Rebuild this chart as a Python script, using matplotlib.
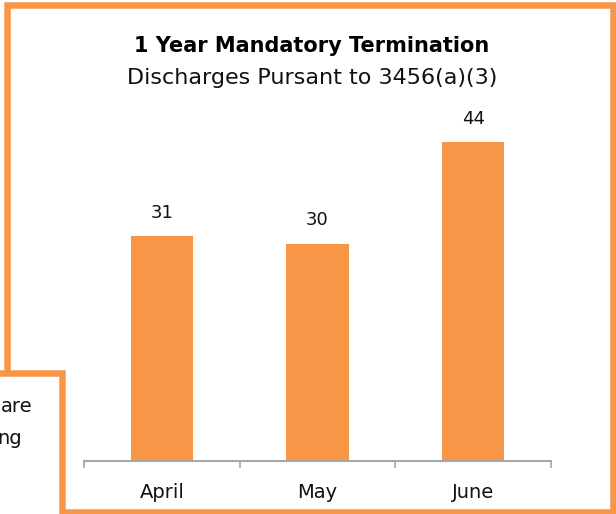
import matplotlib
matplotlib.use('Agg')
import matplotlib.pyplot as plt
from matplotlib.patches import Rectangle

months = ['April', 'May', 'June']
discharges = [31, 30, 44]
title = '1 Year Mandatory Termination'
subtitle = 'Discharges Pursant to 3456(a)(3)'
side_words = ['are', 'ng']

W, H = 616, 514
orange = '#F79646'
grey = '#A6A6A6'


def fx(px):
    return px / W


def fy(py):
    # pixel rows counted from the top
    return 1 - py / H


fig = plt.figure(figsize=(W / 100, H / 100), dpi=100)

# chart frame
frame_lw = 6.5 * 72 / 100
fig.add_artist(Rectangle((fx(7), fy(512)), fx(613) - fx(7), fy(5) - fy(512),
                         transform=fig.transFigure, fill=False,
                         edgecolor=orange, linewidth=frame_lw, zorder=1))
# box of the neighbouring slide object, lower left
fig.add_artist(Rectangle((fx(-20), fy(560)), fx(62) - fx(-20), fy(373) - fy(560),
                         transform=fig.transFigure, facecolor='white',
                         edgecolor=orange, linewidth=frame_lw, zorder=2))
fig.text(fx(32), fy(412), side_words[0], ha='right', va='baseline',
         fontsize=14, color='#111111', zorder=3)
fig.text(fx(22), fy(444), side_words[1], ha='right', va='baseline',
         fontsize=14, color='#111111', zorder=3)

# titles
fig.text(fx(312), fy(52), title, ha='center', va='baseline',
         fontsize=15, fontweight='bold', color='black')
fig.text(fx(312), fy(84), subtitle, ha='center', va='baseline',
         fontsize=16, color='#111111')

# bar chart
ymax = 50
px_per_unit = 7.25
ax = fig.add_axes([fx(84), fy(461), fx(551) - fx(84), ymax * px_per_unit / H])
ax.patch.set_alpha(0)
x = list(range(len(months)))
ax.bar(x, discharges, width=0.4, color=orange, zorder=2)
for xi, v in zip(x, discharges):
    ax.annotate(str(v), (xi, v), xytext=(0, 13), textcoords='offset points',
                ha='center', va='baseline', fontsize=13, color='#111111')

ax.set_xlim(-0.5, len(months) - 0.5)
ax.set_ylim(0, ymax)
ax.set_yticks([])
for side in ['left', 'right', 'top']:
    ax.spines[side].set_visible(False)
ax.spines['bottom'].set_color(grey)
ax.spines['bottom'].set_linewidth(1.5)

ax.set_xticks([i - 0.5 for i in range(len(months) + 1)])
ax.set_xticklabels([])
ax.tick_params(axis='x', which='major', length=5, width=1.2, color=grey, direction='out')
ax.set_xticks(x, minor=True)
ax.set_xticklabels(months, minor=True)
ax.tick_params(axis='x', which='minor', length=0, pad=16, labelsize=14, labelcolor='#111111')

fig.savefig('out.png', dpi=100)
